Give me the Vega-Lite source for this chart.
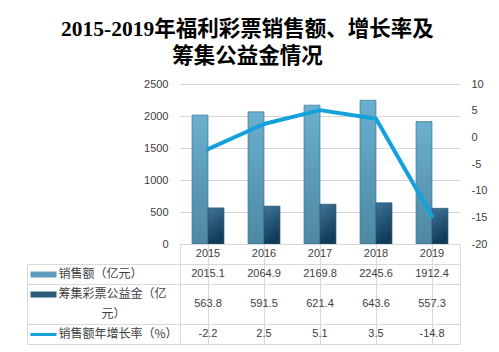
{
  "$schema": "https://vega.github.io/schema/vega-lite/v6.json",
  "background": "white",
  "padding": {"left": 26, "top": 18, "right": 5, "bottom": 5},
  "title": {
    "text": ["2015-2019年福利彩票销售额、增长率及", "筹集公益金情况"],
    "font": "Liberation Serif, Noto Sans CJK SC",
    "fontSize": 21.5,
    "fontWeight": "bold",
    "color": "#000000",
    "lineHeight": 27,
    "anchor": "middle",
    "dx": -9,
    "offset": 11
  },
  "config": {
    "view": {"stroke": null},
    "font": "Liberation Sans, Noto Sans CJK SC",
    "locale": {"number": {"decimal": ".", "thousands": ",", "grouping": [3], "currency": ["$", ""], "minus": "-"}},
    "axis": {"labelFont": "Liberation Sans, Noto Sans CJK SC", "labelColor": "#404040", "title": null}
  },
  "datasets": {
    "d": [
      {"year": "2015", "sales": 2015.1, "fund": 563.8, "growth": -2.2},
      {"year": "2016", "sales": 2064.9, "fund": 591.5, "growth": 2.5},
      {"year": "2017", "sales": 2169.8, "fund": 621.4, "growth": 5.1},
      {"year": "2018", "sales": 2245.6, "fund": 643.6, "growth": 3.5},
      {"year": "2019", "sales": 1912.4, "fund": 557.3, "growth": -14.8}
    ]
  },
  "bounds": "flush",
  "spacing": 0,
  "vconcat": [
    {
      "width": 280,
      "height": 160,
      "data": {"name": "d"},
      "encoding": {
        "x": {"field": "year", "type": "nominal", "scale": {"paddingInner": 0.43, "paddingOuter": 0.215}, "axis": null}
      },
      "layer": [
        {
          "transform": [{"fold": ["sales", "fund"], "as": ["series", "value"]}],
          "mark": {"type": "bar", "strokeWidth": 0.7},
          "encoding": {
            "xOffset": {"field": "series", "type": "nominal", "scale": {"domain": ["sales", "fund"], "paddingInner": 0, "paddingOuter": 0}},
            "y": {
              "field": "value", "type": "quantitative", "title": null,
              "scale": {"domain": [0, 2500], "nice": false},
              "axis": {"values": [0, 500, 1000, 1500, 2000, 2500], "format": "d", "labelOverlap": false, "grid": true, "gridColor": "#d9d9d9", "domain": false, "ticks": false, "tickSize": 0, "labelPadding": 12, "labelFontSize": 11, "title": null}
            },
            "color": {
              "condition": {"test": "datum.series === 'sales'", "value": {"gradient": "linear", "x1": 0, "y1": 0, "x2": 0, "y2": 1, "stops": [{"offset": 0, "color": "#6bafce"}, {"offset": 1, "color": "#4c88a2"}]}},
              "value": {"gradient": "linear", "x1": 0, "y1": 0, "x2": 0.3, "y2": 1, "stops": [{"offset": 0, "color": "#41739a"}, {"offset": 1, "color": "#0e3b55"}]}
            },
            "stroke": {"condition": {"test": "datum.series === 'sales'", "value": "#3f7594"}, "value": "#2c5570"}
          }
        },
        {
          "mark": {"type": "line", "color": "#14a1dc", "strokeWidth": 4, "strokeCap": "round", "strokeJoin": "round"},
          "encoding": {
            "y": {
              "field": "growth", "type": "quantitative", "title": null,
              "scale": {"domain": [-20, 10], "nice": false},
              "axis": {"orient": "right", "values": [-20, -15, -10, -5, 0, 5, 10], "format": "d", "labelOverlap": false, "grid": false, "domain": false, "ticks": false, "tickSize": 0, "labelPadding": 11, "labelFontSize": 11, "title": null}
            }
          }
        }
      ],
      "resolve": {"scale": {"y": "independent"}, "axis": {"y": "independent"}}
    },
    {
      "width": 280,
      "height": 100,
      "view": {"stroke": "#d9d9d9"},
      "data": {"name": "d"},
      "encoding": {
        "x": {"field": "year", "type": "nominal", "scale": {"paddingInner": 0, "paddingOuter": 0}, "axis": null}
      },
      "layer": [
        {
          "mark": {"type": "text", "fontSize": 11, "color": "#404040", "font": "Liberation Sans"},
          "encoding": {
            "x": {"field": "year", "type": "nominal", "axis": {"bandPosition": 0, "grid": true, "gridColor": "#d9d9d9", "ticks": false, "labels": false, "domain": false, "title": null}},
            "text": {"field": "year"},
            "y": {
              "datum": "hdr", "type": "nominal",
              "scale": {"domain": ["hdr", "sales", "fund", "fund2", "growth"], "paddingInner": 0, "paddingOuter": 0},
              "axis": {"orient": "left", "bandPosition": 0, "values": ["sales", "fund", "growth"], "grid": true, "gridColor": "#d9d9d9", "ticks": true, "tickSize": 153, "tickColor": "#d9d9d9", "labels": false, "domain": false, "title": null}
            }
          }
        },
        {
          "mark": {"type": "text", "fontSize": 11, "color": "#404040", "font": "Liberation Sans"},
          "encoding": {
            "text": {"field": "sales", "format": ".1f"},
            "y": {
              "datum": "sales", "type": "nominal",
              "axis": {
                "orient": "left", "values": ["sales", "fund", "fund2", "growth"],
                "labelExpr": "datum.value === 'sales' ? '销售额（亿元）' : datum.value === 'fund' ? '筹集彩票公益金（亿' : datum.value === 'fund2' ? '元）' : '销售额年增长率（%）'",
                "ticks": false, "tickSize": 0, "domain": false, "grid": false,
                "labelAlign": "left",
                "labelPadding": {"condition": {"test": "datum.value === 'fund2'", "value": 79}, "value": 122},
                "labelFontSize": 12, "labelFont": "Noto Sans CJK SC", "labelColor": "#404040", "labelLimit": 200, "labelOverlap": false, "title": null
              }
            }
          }
        },
        {
          "mark": {"type": "text", "fontSize": 11, "color": "#404040", "font": "Liberation Sans"},
          "encoding": {
            "text": {"field": "fund", "format": ".1f"},
            "y": {
              "datum": "fund", "type": "nominal",
              "axis": {
                "orient": "left", "offset": 150, "values": ["sales", "fund", "growth"],
                "ticks": true, "tickSize": -26,
                "tickColor": {"condition": [{"test": "datum.value === 'sales'", "value": "#5e9dbd"}, {"test": "datum.value === 'fund'", "value": "#2a5b79"}], "value": "#14a1dc"},
                "tickWidth": {"condition": {"test": "datum.value === 'growth'", "value": 3}, "value": 6},
                "labels": false, "domain": false, "grid": false, "title": null
              }
            },
            "yOffset": {"datum": "fund", "type": "nominal", "scale": {"type": "point", "domain": ["start", "fund"], "padding": 0}}
          }
        },
        {
          "mark": {"type": "text", "fontSize": 11, "color": "#404040", "font": "Liberation Sans"},
          "encoding": {
            "text": {"field": "growth", "format": ".1f"},
            "y": {
              "datum": "growth", "type": "nominal",
              "axis": {
                "orient": "left", "offset": 153, "bandPosition": 1, "values": ["growth"],
                "ticks": true, "tickSize": -153, "tickColor": "#d9d9d9",
                "domain": true, "domainColor": "#d9d9d9", "domainDash": [0, 20, 80, 0],
                "labels": false, "grid": false, "title": null
              }
            }
          }
        }
      ],
      "resolve": {"axis": {"y": "independent", "x": "independent"}}
    }
  ]
}
